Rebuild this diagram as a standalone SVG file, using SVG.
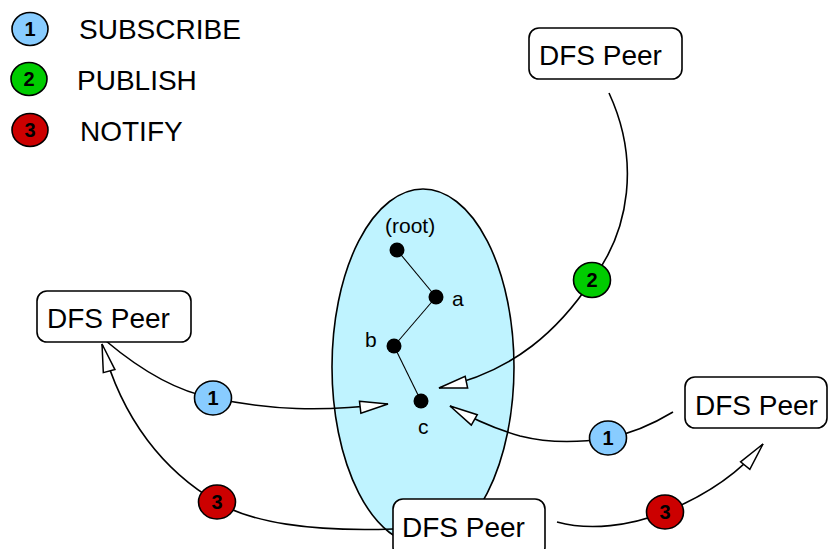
<svg xmlns="http://www.w3.org/2000/svg" width="829" height="549" viewBox="0 0 829 549">
  <defs>
    <marker id="open-arrow" markerUnits="userSpaceOnUse" markerWidth="34" markerHeight="18" viewBox="-2 -8 34 16" refX="28" refY="0" orient="auto">
      <path d="M0,-6 L28,0 L0,6 Z" fill="#ffffff" stroke="#000000" stroke-width="1.5" stroke-linejoin="miter"/>
    </marker>
    <style>
      .label { font-family: "Liberation Sans", Arial, sans-serif; fill: #000000; }
      .legend { font-size: 28px; }
      .peer-box { fill: #ffffff; stroke: #000000; stroke-width: 1.6; }
      .peer-text { font-size: 28px; }
      .badge { stroke: #000000; stroke-width: 1.6; }
      .badge-num { font-family: "Liberation Sans", Arial, sans-serif; font-weight: bold; font-size: 20px; text-anchor: middle; fill: #000000; }
      .sub { fill: #88ccff; }
      .pub { fill: #00cc00; }
      .note { fill: #cc0000; }
      .conn { fill: none; stroke: #000000; stroke-width: 1.6; }
      .tree-edge { stroke: #000000; stroke-width: 1.1; }
      .tree-node { fill: #000000; }
      .tree-text { font-size: 21px; }
    </style>
  </defs>

  <rect width="829" height="549" fill="#ffffff"/>

  <!-- legend -->
  <g id="legend">
    <ellipse class="badge sub" cx="30" cy="29" rx="18" ry="16.5"/>
    <text class="badge-num" x="30" y="36">1</text>
    <text class="label legend" x="79" y="39">SUBSCRIBE</text>
    <ellipse class="badge pub" cx="29" cy="79" rx="18" ry="16.5"/>
    <text class="badge-num" x="29" y="86">2</text>
    <text class="label legend" x="77" y="90">PUBLISH</text>
    <ellipse class="badge note" cx="30" cy="130" rx="18" ry="16.5"/>
    <text class="badge-num" x="30" y="137">3</text>
    <text class="label legend" x="80" y="141">NOTIFY</text>
  </g>

  <!-- namespace tree inside the DFS -->
  <g id="namespace">
    <ellipse cx="423" cy="367" rx="91" ry="178" fill="#bff3ff" stroke="#000000" stroke-width="1.6"/>
    <line class="tree-edge" x1="397" y1="250" x2="436" y2="297"/>
    <line class="tree-edge" x1="436" y1="297" x2="394" y2="346"/>
    <line class="tree-edge" x1="394" y1="346" x2="421" y2="401"/>
    <g id="node-root">
      <circle class="tree-node" cx="397" cy="250" r="7.5"/>
      <text class="label tree-text" x="385" y="233">(root)</text>
    </g>
    <g id="node-a">
      <circle class="tree-node" cx="436" cy="297" r="7.5"/>
      <text class="label tree-text" x="452" y="306">a</text>
    </g>
    <g id="node-b">
      <circle class="tree-node" cx="394" cy="346" r="7.5"/>
      <text class="label tree-text" x="365" y="347">b</text>
    </g>
    <g id="node-c">
      <circle class="tree-node" cx="421" cy="401" r="7.5"/>
      <text class="label tree-text" x="418" y="434">c</text>
    </g>
  </g>

  <!-- connectors -->
  <g id="connectors">
    <path class="conn" marker-end="url(#open-arrow)" d="M106,341 C150,378 185,393 213,398 C270,410 320,412 388,404"/>
    <path class="conn" marker-end="url(#open-arrow)" d="M609,93 C640,160 630,230 592,280 C560,328 515,372 439,388"/>
    <path class="conn" marker-end="url(#open-arrow)" d="M673,412 Q640,432 608,438 Q560,446 520,436 Q485,426 450,406"/>
    <path class="conn" marker-end="url(#open-arrow)" d="M393,529 C310,532 250,522 217,502 C165,472 122,420 102,344"/>
    <path class="conn" marker-end="url(#open-arrow)" d="M557,522 C590,531 630,526 665,512 C700,498 735,478 763,444"/>
  </g>

  <!-- step badges on the connectors -->
  <g id="badges">
    <g id="badge-sub-left">
      <ellipse class="badge sub" cx="213" cy="398" rx="18.5" ry="17"/>
      <text class="badge-num" x="213" y="405">1</text>
    </g>
    <g id="badge-pub">
      <ellipse class="badge pub" cx="592" cy="280" rx="18.5" ry="17.5"/>
      <text class="badge-num" x="592" y="287">2</text>
    </g>
    <g id="badge-sub-right">
      <ellipse class="badge sub" cx="608" cy="438" rx="18.5" ry="17"/>
      <text class="badge-num" x="608" y="445">1</text>
    </g>
    <g id="badge-note-left">
      <ellipse class="badge note" cx="217" cy="502" rx="18.5" ry="17"/>
      <text class="badge-num" x="217" y="509">3</text>
    </g>
    <g id="badge-note-right">
      <ellipse class="badge note" cx="665" cy="512" rx="18.5" ry="17"/>
      <text class="badge-num" x="665" y="519">3</text>
    </g>
  </g>

  <!-- DFS peers -->
  <g id="peer-left">
    <rect class="peer-box" x="37" y="291" width="154" height="51" rx="10"/>
    <text class="label peer-text" x="47" y="328">DFS Peer</text>
  </g>
  <g id="peer-top">
    <rect class="peer-box" x="529" y="28" width="153" height="51" rx="10"/>
    <text class="label peer-text" x="539" y="65">DFS Peer</text>
  </g>
  <g id="peer-right">
    <rect class="peer-box" x="685" y="377" width="142" height="51" rx="10"/>
    <text class="label peer-text" x="695" y="415">DFS Peer</text>
  </g>
  <g id="peer-bottom">
    <rect class="peer-box" x="393" y="499" width="152" height="58" rx="10"/>
    <text class="label peer-text" x="402" y="537">DFS Peer</text>
  </g>
</svg>
